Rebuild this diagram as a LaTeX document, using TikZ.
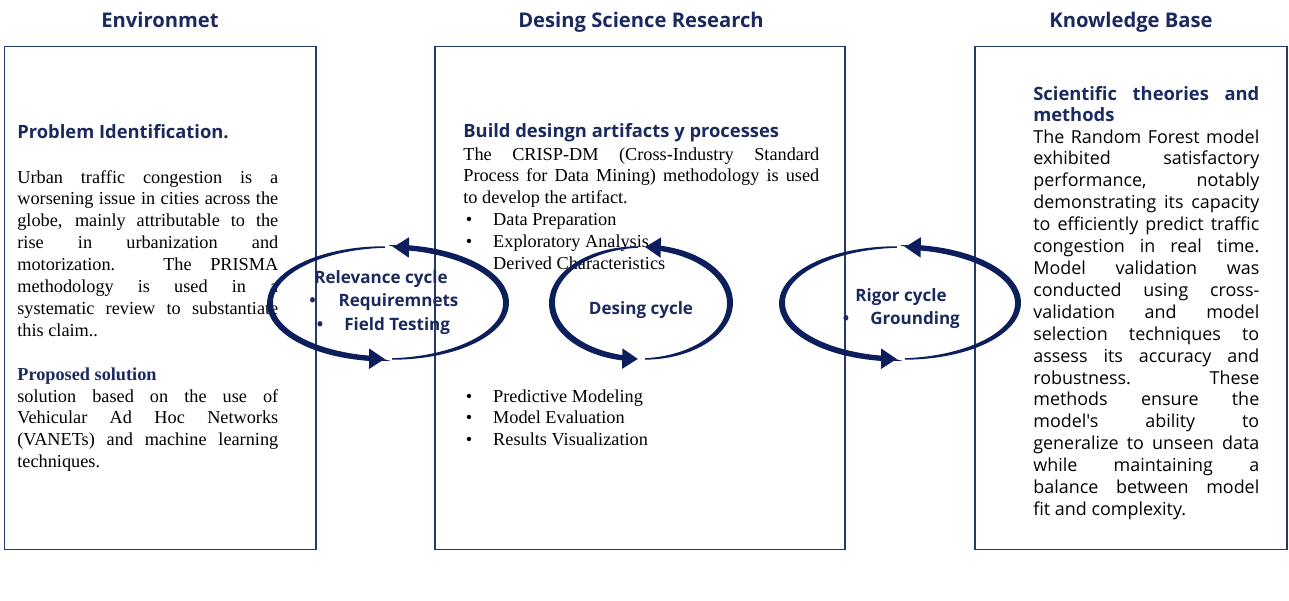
\documentclass[tikz,border=0pt]{standalone}
\usepackage{fontspec}
\setmainfont{Liberation Serif}
\newfontfamily\headfont{Open Sans}
\usepackage{xcolor}
\usetikzlibrary{arrows.meta, positioning, calc}
\definecolor{navy}{HTML}{1B2A5E}
\definecolor{cycblue}{HTML}{0C1F5C}
\definecolor{frameblue}{HTML}{26396B}
\tolerance=10000
\hyphenpenalty=10000
\newcommand{\listitem}[1]{\makebox[17pt][l]{\hspace{1.5pt}\textbullet}#1}
% tapered elliptic arc with a head: centre x, centre y, x radius, y radius, start, end (px, degrees)
\newcommand{\cyclearc}[6]{%
  \pgfmathsetmacro\tipang{deg(16/#3)}
  \fill[cycblue] plot[domain=#5:#6-\tipang+1, samples=60]
      ({#1+(#3+hw((\x-#5)/(#6-#5)))*cos(\x)}, {#2+(#4+hw((\x-#5)/(#6-#5)))*sin(\x)})
    -- plot[domain=#6-\tipang+1:#5, samples=60]
      ({#1+(#3-hw((\x-#5)/(#6-#5)))*cos(\x)}, {#2+(#4-hw((\x-#5)/(#6-#5)))*sin(\x)})
    -- cycle;
  \draw[cyc] ({#1+#3*cos(#6-\tipang-2)}, {#2+#4*sin(#6-\tipang-2)})
    arc[start angle=#6-\tipang-2, end angle=#6, x radius=#3*0.02cm, y radius=#4*0.02cm];
}

\begin{document}
\begin{tikzpicture}[x=0.02cm, y=0.02cm,
  declare function={hw(\t)=0.75+2.4*sin(135*\t);},
  panel/.style={draw=frameblue, line width=0.8pt, minimum height=10.06cm},
  title/.style={font=\headfont\bfseries\fontsize{11.5}{13}\selectfont, text=navy,
                inner sep=0pt, anchor=base},
  head/.style={font=\headfont\bfseries\fontsize{10.45}{12.47}\selectfont, text=navy,
               inner sep=0pt, anchor=base west},
  body/.style={font=\fontsize{10.4}{12.47}\selectfont, inner sep=0pt, anchor=base west, align=justify},
  kbody/.style={font=\headfont\fontsize{10.2}{12.47}\selectfont, inner sep=0pt,
                anchor=base west, align=justify},
  lbl/.style={font=\headfont\bfseries\fontsize{9.7}{11}\selectfont, text=navy, inner sep=0pt},
  cyc/.style={draw=cycblue, line width=2.6pt, -{Triangle[length=9pt,width=11pt]}}
]
\useasboundingbox (0,0) rectangle (1289,-600);

% column titles
\node[title] (envtitle) at (160,-27)  {Environmet};
\node[title] (dsrtitle) at (641,-27)  {Desing Science Research};
\node[title] (kbtitle)  at (1131,-27) {Knowledge Base};

% the three panels
\node[panel, minimum width=6.23cm] (env) at (160.25,-298) {};
\node[panel, minimum width=8.2cm]  (dsr) at (640,-298)    {};
\node[panel, minimum width=6.24cm] (kb)  at (1131,-298)   {};

% environment
\node[head] (probhead) at (17,-138) {Problem Identification.};
\node[body, text width=5.22cm] (probtext) at (17,-183) {%
  Urban traffic congestion is a\linebreak
  worsening issue in cities across the\linebreak
  globe, mainly attributable to the\linebreak
  rise in urbanization and\linebreak
  motorization. The PRISMA\linebreak
  methodology is used in a\linebreak
  systematic review to substantiate\linebreak
  this claim..};
\node[body, font=\fontsize{10.4}{12.47}\selectfont\bfseries, text=navy] (solhead) at (17,-380) {Proposed solution};
\node[body, text width=5.22cm] (soltext) at (17,-402) {%
  solution based on the use of\linebreak
  Vehicular Ad Hoc Networks\linebreak
  (VANETs) and machine learning\linebreak
  techniques.};

% design science research
\node[head] (buildhead) at (463,-137) {Build desingn artifacts y processes};
\node[body, text width=7.12cm] (crisptext) at (463,-160) {%
  The CRISP-DM (Cross-Industry Standard\linebreak
  Process for Data Mining) methodology is used\linebreak
  to develop the artifact.\par
  \listitem{Data Preparation}\par
  \listitem{Exploratory Analysis}\par
  \listitem{Derived Characteristics}};
\node[body, text width=7.12cm] (steptext) at (463,-402) {%
  \listitem{Predictive Modeling}\par
  \listitem{Model Evaluation}\par
  \listitem{Results Visualization}};

% knowledge base
\node[head, text width=4.52cm, align=justify] (scihead) at (1033,-100) {%
  Scientific theories and\linebreak methods};
\node[kbody, text width=4.52cm] (scitext) at (1033,-143) {%
  The Random Forest model\linebreak
  exhibited satisfactory\linebreak
  performance, notably\linebreak
  demonstrating its capacity\linebreak
  to efficiently predict traffic\linebreak
  congestion in real time.\linebreak
  Model validation was\linebreak
  conducted using cross-\linebreak
  validation and model\linebreak
  selection techniques to\linebreak
  assess its accuracy and\linebreak
  robustness. These\linebreak
  methods ensure the\linebreak
  model's ability to\linebreak
  generalize to unseen data\linebreak
  while maintaining a\linebreak
  balance between model\linebreak
  fit and complexity.};

% cycles
\cyclearc{388}{-303}{118}{56}{91.5}{268.5}
\cyclearc{388}{-303}{118}{56}{272}{447.5}

\cyclearc{641}{-303}{89}{56}{91.9}{268.1}
\cyclearc{641}{-303}{89}{56}{272.6}{447.4}

\cyclearc{900}{-303}{118}{56}{91.5}{268.5}
\cyclearc{900}{-303}{118}{56}{272.4}{447.6}

% cycle labels
\node[lbl] (relname) at (381,-279) {Relevance cycle};
\node[lbl, anchor=west] (relreq)   at (309,-302)   {\textbullet\hspace{13pt}Requiremnets};
\node[lbl, anchor=west] (relfield) at (316.5,-326) {\textbullet\hspace{12pt}Field Testing};
\node[lbl] (desname) at (641,-310) {Desing cycle};
\node[lbl] (rigname) at (901,-297) {Rigor cycle};
\node[lbl, anchor=west] (rigground) at (842.5,-320) {\textbullet\hspace{12pt}Grounding};
\end{tikzpicture}
\end{document}
